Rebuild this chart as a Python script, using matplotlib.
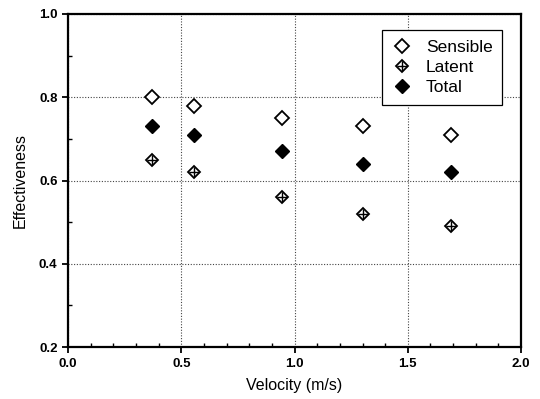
import matplotlib
matplotlib.use("Agg")
import matplotlib.pyplot as plt
from matplotlib.legend_handler import HandlerTuple
from matplotlib.ticker import MultipleLocator

plt.rcParams['font.family'] = ['Liberation Sans', 'DejaVu Sans']

# data
velocity = [0.37, 0.555, 0.945, 1.30, 1.69]
sensible = [0.80, 0.78, 0.75, 0.73, 0.71]
latent = [0.65, 0.62, 0.56, 0.52, 0.49]
total = [0.73, 0.71, 0.67, 0.64, 0.62]

fig = plt.figure(figsize=(5.4, 3.99), dpi=100)
ax = fig.add_axes([0.126, 0.130, 0.839, 0.835])

h_s, = ax.plot(velocity, sensible, ls='none', marker='D', ms=7, mfc='white',
               mec='black', mew=1.3, zorder=3)
h_l1, = ax.plot(velocity, latent, ls='none', marker='D', ms=6.5, mfc='white',
                mec='black', mew=1.3, zorder=3)
h_l2, = ax.plot(velocity, latent, ls='none', marker='+', ms=7, mec='black',
                mew=1.0, zorder=4)
h_t, = ax.plot(velocity, total, ls='none', marker='D', ms=7, mfc='black',
               mec='black', zorder=3)

ax.set_xlim(0, 2.0)
ax.set_ylim(0.2, 1.0)
ax.xaxis.set_major_locator(MultipleLocator(0.5))
ax.xaxis.set_minor_locator(MultipleLocator(0.1))
ax.yaxis.set_major_locator(MultipleLocator(0.2))
ax.yaxis.set_minor_locator(MultipleLocator(0.1))
ax.tick_params(which='major', direction='out', length=4, width=1.3,
               labelsize=9.5)
ax.tick_params(which='minor', direction='in', length=3, width=1.0)
for lab in ax.get_xticklabels() + ax.get_yticklabels():
    lab.set_fontweight('bold')
for sp in ax.spines.values():
    sp.set_linewidth(1.6)

ax.grid(True, which='major', ls=(0, (1, 1.5)), color='#444444', lw=0.8)
ax.set_axisbelow(True)

ax.set_xlabel('Velocity (m/s)', fontsize=11.5, labelpad=6)
ax.set_ylabel('Effectiveness', fontsize=11.5, labelpad=8)

leg = ax.legend([h_s, (h_l1, h_l2), h_t], ['Sensible', 'Latent', 'Total'],
                handler_map={tuple: HandlerTuple(ndivide=1, pad=0)},
                loc='upper right', bbox_to_anchor=(0.958, 0.952),
                borderaxespad=0,
                fontsize=12.5, fancybox=False, edgecolor='black',
                framealpha=1, handlelength=1.3, handletextpad=0.7,
                labelspacing=0.3, borderpad=0.55)
leg.get_frame().set_linewidth(0.9)

fig.savefig('out.png', dpi=100)
